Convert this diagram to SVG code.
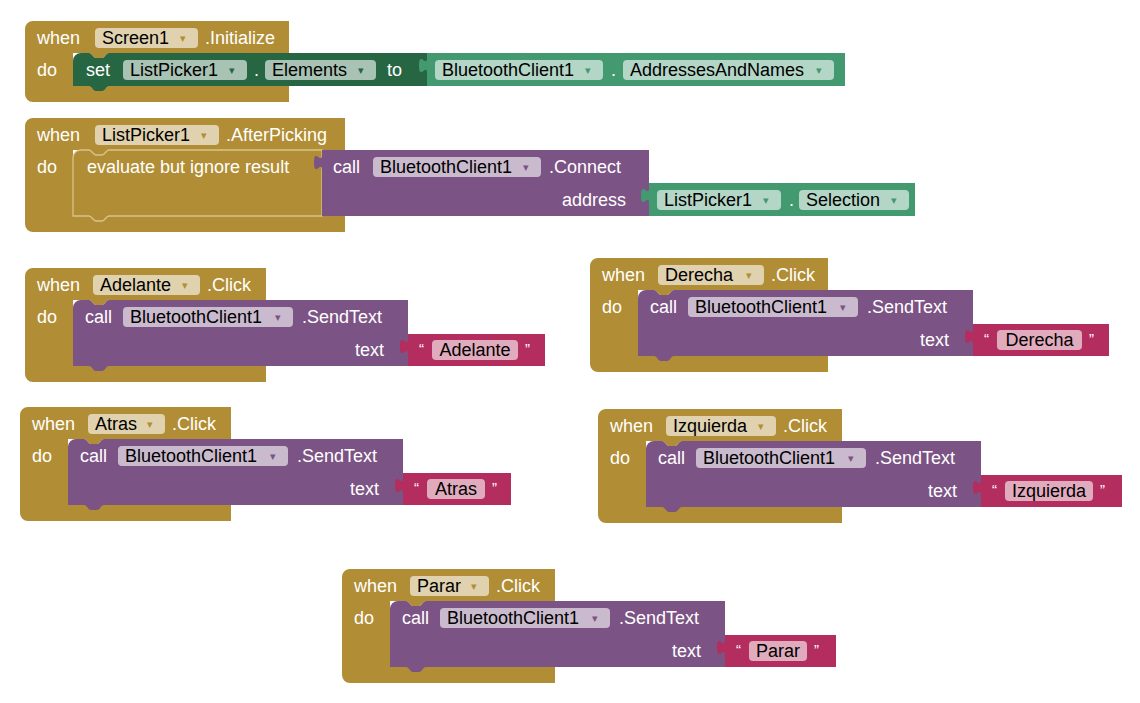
<svg xmlns="http://www.w3.org/2000/svg" xmlns:xlink="http://www.w3.org/1999/xlink" width="1140" height="703" viewBox="0 0 1140 703">
<style>
.ev{fill:#b18e35}
.evs{fill:#b18e35;stroke:#d9c48c;stroke-width:1.3}
.pr{fill:#7c5385}
.tx{fill:#b32d5e}
.dg{fill:#266643}
.lg{fill:#439970}
.l{font-family:"Liberation Sans",Arial,sans-serif;font-size:18px;fill:#fff}
.f{font-family:"Liberation Sans",Arial,sans-serif;font-size:18px;fill:#000}
.fb{fill:#fff;fill-opacity:0.6}
.a{font-family:"DejaVu Sans",sans-serif;font-size:11px}
.q{font-family:"Liberation Sans",Arial,sans-serif;font-size:15px;fill:#fff}
.ae{fill:#b18e35}
.ap{fill:#7c5385}
.ad{fill:#266643}
.ag{fill:#439970}
</style>
<defs>
<path id="callShape" d="M48,40 a8,8 0 0 1 8,-8 H64 c3,0 4,5 7,5 h6 c3,0 4,-5 7,-5 H383 V98 H84 c-3,0 -4,5 -7,5 h-6 c-3,0 -4,-5 -7,-5 H48 Z"/>
</defs>
<rect width="1140" height="703" fill="#fff"/>
<g id="connectors"/>

<g id="screen1-initialize" transform="translate(25,21)">
<path class="ev" d="M0,8 a8,8 0 0 1 8,-8 H264 V32 H84 c-3,0 -4,5 -7,5 h-6 c-3,0 -4,-5 -7,-5 H48 V65 H264 V81 H8 a8,8 0 0 1 -8,-8 Z"/>
<path class="dg" d="M48,40 a8,8 0 0 1 8,-8 H64 c3,0 4,5 7,5 h6 c3,0 4,-5 7,-5 H402 V65 H84 c-3,0 -4,5 -7,5 h-6 c-3,0 -4,-5 -7,-5 H48 Z"/>
<path class="lg" d="M402,32 H820 V65 H402 V52 c0,-10 -8,8 -8,-7.5 s8,2.5 8,-7.5 Z"/>
<text class="l" x="12" y="23">when</text>
<rect class="fb" x="70" y="7" width="103" height="20" rx="4"/>
<text class="f" x="77" y="23">Screen1</text>
<text class="a ae" x="155" y="21">▾</text>
<text class="l" x="180" y="23">.Initialize</text>
<text class="l" x="12" y="55">do</text>
<text class="l" x="61" y="55">set</text>
<rect class="fb" x="98" y="39" width="124" height="20" rx="4"/>
<text class="f" x="105" y="55">ListPicker1</text>
<text class="a ad" x="204" y="53">▾</text>
<text class="l" x="229" y="55">.</text>
<rect class="fb" x="240" y="39" width="111" height="20" rx="4"/>
<text class="f" x="247" y="55">Elements</text>
<text class="a ad" x="333" y="53">▾</text>
<text class="l" x="362" y="55">to</text>
<rect class="fb" x="410" y="39" width="168" height="20" rx="4"/>
<text class="f" x="417" y="55">BluetoothClient1</text>
<text class="a ag" x="560" y="53">▾</text>
<text class="l" x="586" y="55">.</text>
<rect class="fb" x="598" y="39" width="211" height="20" rx="4"/>
<text class="f" x="605" y="55">AddressesAndNames</text>
<text class="a ag" x="791" y="53">▾</text>
</g>

<g id="listpicker1-afterpicking" transform="translate(25,118)">
<path class="ev" d="M0,8 a8,8 0 0 1 8,-8 H320 V32 H84 c-3,0 -4,5 -7,5 h-6 c-3,0 -4,-5 -7,-5 H48 V98 H320 V114 H8 a8,8 0 0 1 -8,-8 Z"/>
<path class="evs" d="M48,40 a8,8 0 0 1 8,-8 H64 c3,0 4,5 7,5 h6 c3,0 4,-5 7,-5 H297 V98 H84 c-3,0 -4,5 -7,5 h-6 c-3,0 -4,-5 -7,-5 H48 Z"/>
<path class="pr" d="M297,32 H624 V98 H297 V52 c0,-10 -8,8 -8,-7.5 s8,2.5 8,-7.5 Z"/>
<path class="lg" d="M624,65 H890 V98 H624 V85 c0,-10 -8,8 -8,-7.5 s8,2.5 8,-7.5 Z"/>
<text class="l" x="12" y="23">when</text>
<rect class="fb" x="70" y="7" width="124" height="20" rx="4"/>
<text class="f" x="77" y="23">ListPicker1</text>
<text class="a ae" x="176" y="21">▾</text>
<text class="l" x="201" y="23">.AfterPicking</text>
<text class="l" x="12" y="55">do</text>
<text class="l" x="62" y="55">evaluate but ignore result</text>
<text class="l" x="308" y="55">call</text>
<rect class="fb" x="348" y="39" width="168" height="20" rx="4"/>
<text class="f" x="355" y="55">BluetoothClient1</text>
<text class="a ap" x="498" y="53">▾</text>
<text class="l" x="524" y="55">.Connect</text>
<text class="l" x="601" y="88" text-anchor="end">address</text>
<rect class="fb" x="632" y="72" width="124" height="20" rx="4"/>
<text class="f" x="639" y="88">ListPicker1</text>
<text class="a ag" x="738" y="86">▾</text>
<text class="l" x="764" y="88">.</text>
<rect class="fb" x="774" y="72" width="110" height="20" rx="4"/>
<text class="f" x="781" y="88">Selection</text>
<text class="a ag" x="866" y="86">▾</text>
</g>

<g id="adelante-click" transform="translate(25,268)">
<path class="ev" d="M0,8 a8,8 0 0 1 8,-8 H241 V32 H84 c-3,0 -4,5 -7,5 h-6 c-3,0 -4,-5 -7,-5 H48 V98 H241 V114 H8 a8,8 0 0 1 -8,-8 Z"/>
<use xlink:href="#callShape" href="#callShape" class="pr"/>
<path class="tx" d="M383,66 H520 V98 H383 V86 c0,-10 -8,8 -8,-7.5 s8,2.5 8,-7.5 Z"/>
<text class="l" x="12" y="23">when</text>
<rect class="fb" x="68" y="7" width="107" height="20" rx="4"/>
<text class="f" x="75" y="23">Adelante</text>
<text class="a ae" x="157" y="21">▾</text>
<text class="l" x="182" y="23">.Click</text>
<text class="l" x="12" y="55">do</text>
<text class="l" x="60" y="55">call</text>
<rect class="fb" x="98" y="39" width="170" height="20" rx="4"/>
<text class="f" x="105" y="55">BluetoothClient1</text>
<text class="a ap" x="250" y="53">▾</text>
<text class="l" x="277" y="55">.SendText</text>
<text class="l" x="359" y="88" text-anchor="end">text</text>
<text class="q" x="394" y="86">“</text>
<rect class="fb" x="407" y="72" width="86" height="20" rx="4"/>
<text class="f" x="450" y="88" text-anchor="middle">Adelante</text>
<text class="q" x="500" y="86">”</text>
</g>

<g id="derecha-click" transform="translate(590,258)">
<path class="ev" d="M0,8 a8,8 0 0 1 8,-8 H238 V32 H84 c-3,0 -4,5 -7,5 h-6 c-3,0 -4,-5 -7,-5 H48 V98 H238 V114 H8 a8,8 0 0 1 -8,-8 Z"/>
<use xlink:href="#callShape" href="#callShape" class="pr"/>
<path class="tx" d="M383,66 H519 V98 H383 V86 c0,-10 -8,8 -8,-7.5 s8,2.5 8,-7.5 Z"/>
<text class="l" x="12" y="23">when</text>
<rect class="fb" x="68" y="7" width="106" height="20" rx="4"/>
<text class="f" x="75" y="23">Derecha</text>
<text class="a ae" x="156" y="21">▾</text>
<text class="l" x="181" y="23">.Click</text>
<text class="l" x="12" y="55">do</text>
<text class="l" x="60" y="55">call</text>
<rect class="fb" x="98" y="39" width="170" height="20" rx="4"/>
<text class="f" x="105" y="55">BluetoothClient1</text>
<text class="a ap" x="250" y="53">▾</text>
<text class="l" x="277" y="55">.SendText</text>
<text class="l" x="359" y="88" text-anchor="end">text</text>
<text class="q" x="394" y="86">“</text>
<rect class="fb" x="407" y="72" width="85" height="20" rx="4"/>
<text class="f" x="449.5" y="88" text-anchor="middle">Derecha</text>
<text class="q" x="499" y="86">”</text>
</g>

<g id="atras-click" transform="translate(20,407)">
<path class="ev" d="M0,8 a8,8 0 0 1 8,-8 H211 V32 H84 c-3,0 -4,5 -7,5 h-6 c-3,0 -4,-5 -7,-5 H48 V98 H211 V114 H8 a8,8 0 0 1 -8,-8 Z"/>
<use xlink:href="#callShape" href="#callShape" class="pr"/>
<path class="tx" d="M383,66 H491 V98 H383 V86 c0,-10 -8,8 -8,-7.5 s8,2.5 8,-7.5 Z"/>
<text class="l" x="12" y="23">when</text>
<rect class="fb" x="68" y="7" width="77" height="20" rx="4"/>
<text class="f" x="75" y="23">Atras</text>
<text class="a ae" x="127" y="21">▾</text>
<text class="l" x="152" y="23">.Click</text>
<text class="l" x="12" y="55">do</text>
<text class="l" x="60" y="55">call</text>
<rect class="fb" x="98" y="39" width="170" height="20" rx="4"/>
<text class="f" x="105" y="55">BluetoothClient1</text>
<text class="a ap" x="250" y="53">▾</text>
<text class="l" x="277" y="55">.SendText</text>
<text class="l" x="359" y="88" text-anchor="end">text</text>
<text class="q" x="394" y="86">“</text>
<rect class="fb" x="407" y="72" width="58" height="20" rx="4"/>
<text class="f" x="436" y="88" text-anchor="middle">Atras</text>
<text class="q" x="472" y="86">”</text>
</g>

<g id="izquierda-click" transform="translate(598,409)">
<path class="ev" d="M0,8 a8,8 0 0 1 8,-8 H244 V32 H84 c-3,0 -4,5 -7,5 h-6 c-3,0 -4,-5 -7,-5 H48 V98 H244 V114 H8 a8,8 0 0 1 -8,-8 Z"/>
<use xlink:href="#callShape" href="#callShape" class="pr"/>
<path class="tx" d="M383,66 H524 V98 H383 V86 c0,-10 -8,8 -8,-7.5 s8,2.5 8,-7.5 Z"/>
<text class="l" x="12" y="23">when</text>
<rect class="fb" x="68" y="7" width="110" height="20" rx="4"/>
<text class="f" x="75" y="23">Izquierda</text>
<text class="a ae" x="160" y="21">▾</text>
<text class="l" x="185" y="23">.Click</text>
<text class="l" x="12" y="55">do</text>
<text class="l" x="60" y="55">call</text>
<rect class="fb" x="98" y="39" width="170" height="20" rx="4"/>
<text class="f" x="105" y="55">BluetoothClient1</text>
<text class="a ap" x="250" y="53">▾</text>
<text class="l" x="277" y="55">.SendText</text>
<text class="l" x="359" y="88" text-anchor="end">text</text>
<text class="q" x="394" y="86">“</text>
<rect class="fb" x="407" y="72" width="88" height="20" rx="4"/>
<text class="f" x="451" y="88" text-anchor="middle">Izquierda</text>
<text class="q" x="502" y="86">”</text>
</g>

<g id="parar-click" transform="translate(342,569)">
<path class="ev" d="M0,8 a8,8 0 0 1 8,-8 H213 V32 H84 c-3,0 -4,5 -7,5 h-6 c-3,0 -4,-5 -7,-5 H48 V98 H213 V114 H8 a8,8 0 0 1 -8,-8 Z"/>
<use xlink:href="#callShape" href="#callShape" class="pr"/>
<path class="tx" d="M383,66 H494 V98 H383 V86 c0,-10 -8,8 -8,-7.5 s8,2.5 8,-7.5 Z"/>
<text class="l" x="12" y="23">when</text>
<rect class="fb" x="68" y="7" width="79" height="20" rx="4"/>
<text class="f" x="75" y="23">Parar</text>
<text class="a ae" x="129" y="21">▾</text>
<text class="l" x="154" y="23">.Click</text>
<text class="l" x="12" y="55">do</text>
<text class="l" x="60" y="55">call</text>
<rect class="fb" x="98" y="39" width="170" height="20" rx="4"/>
<text class="f" x="105" y="55">BluetoothClient1</text>
<text class="a ap" x="250" y="53">▾</text>
<text class="l" x="277" y="55">.SendText</text>
<text class="l" x="359" y="88" text-anchor="end">text</text>
<text class="q" x="394" y="86">“</text>
<rect class="fb" x="407" y="72" width="58" height="20" rx="4"/>
<text class="f" x="436" y="88" text-anchor="middle">Parar</text>
<text class="q" x="472" y="86">”</text>
</g>
</svg>
